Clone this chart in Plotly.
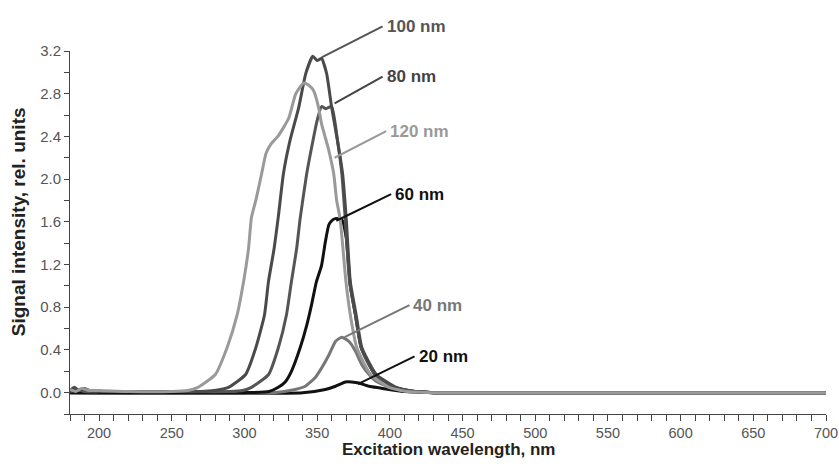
import plotly.graph_objects as go

# ---- data (wavelength nm, signal rel. units) ----
x20 = [180, 340, 355.6, 362.6, 369.4, 373.8, 378.8, 385.7, 392.5, 399.5, 410, 430, 700]
y20 = [0, 0, 0.03, 0.06, 0.10, 0.10, 0.09, 0.06, 0.045, 0.03, 0.01, 0, 0]

x40 = [180, 320, 334.8, 341.8, 348.6, 353, 358, 362.6, 367, 371.8, 376.3, 380.8, 385.7, 390.2, 399.5, 412.5, 430, 700]
y40 = [0, 0, 0.03, 0.06, 0.14, 0.23, 0.35, 0.48, 0.52, 0.48, 0.39, 0.26, 0.17, 0.11, 0.05, 0.01, 0, 0]

x60 = [180, 300, 316.8, 323.3, 328, 332.3, 338.3, 342.8, 346.1, 349.5, 353, 355.6, 358, 360, 362.5, 367, 370,
       372.8, 376.3, 380.3, 389.7, 403.5, 417.5, 430, 700]
y60 = [0, 0, 0.01, 0.05, 0.10, 0.20, 0.42, 0.63, 0.82, 1.04, 1.19, 1.41, 1.57, 1.61, 1.63, 1.62, 1.45,
       1.0, 0.73, 0.42, 0.17, 0.05, 0.01, 0, 0]

x80 = [180, 185, 190, 200, 250, 290, 298.8, 304.8, 316.6, 323.3, 328.9, 332.3, 335.9, 338.3, 342.8, 347.1, 350,
       353, 356, 360, 364, 367, 369.3, 372.3, 376.3, 380.3, 389.7, 403.5, 417.5, 430, 700]
y80 = [0.01, 0.03, 0.01, 0.01, 0.01, 0.01, 0.02, 0.05, 0.17, 0.42, 0.73, 1.04, 1.35, 1.63, 2.05, 2.36, 2.55,
       2.68, 2.66, 2.68, 2.36, 2.05, 1.63, 1.04, 0.73, 0.42, 0.17, 0.05, 0.01, 0, 0]

x100 = [180, 183, 186, 190, 195, 200, 250, 270, 279.2, 289, 300.8, 307.8, 313.8, 316.5, 320.4, 323.4, 326.8,
        331.3, 337.3, 342.2, 347, 350, 353, 356.5, 360, 364, 367.5, 370, 372.8, 376.8, 380.8, 390.7, 404.5,
        417.5, 430, 700]
y100 = [0.02, 0.05, 0.02, 0.04, 0.01, 0.01, 0.01, 0.01, 0.02, 0.05, 0.17, 0.42, 0.73, 1.04, 1.35, 1.66, 2.05,
        2.36, 2.67, 2.99, 3.15, 3.11, 3.13, 2.99, 2.67, 2.36, 2.05, 1.63, 1.04, 0.73, 0.42, 0.17, 0.05,
        0.01, 0, 0]

x120 = [180, 184, 188, 193, 200, 220, 250, 261, 268, 280, 288, 295, 299.4, 302.8, 304.8, 307.8, 311.8, 314.8,
        318.3, 323.5, 330.4, 335.3, 340.8, 344.2, 347.5, 351, 353, 358, 361.4, 363.4, 365.8, 369.8, 372.8,
        377.3, 386.7, 399.5, 412, 428, 700]
y120 = [0.03, 0.01, 0.04, 0.02, 0.02, 0.01, 0.01, 0.02, 0.05, 0.17, 0.42, 0.73, 1.04, 1.35, 1.64, 1.80, 2.05, 2.24,
        2.33, 2.41, 2.57, 2.80, 2.90, 2.88, 2.83, 2.67, 2.52, 2.27, 2.05, 1.80, 1.63, 1.04, 0.73,
        0.42, 0.17, 0.05, 0.01, 0, 0]

# labels and pointer lines
label_text = ["100 nm", "80 nm", "120 nm", "60 nm", "40 nm", "20 nm"]
label_color = ["#555555", "#444444", "#999999", "#111111", "#777777", "#111111"]
tail_x = [395.0, 395.0, 397.5, 400.9, 413.5, 417.0]
tail_y = [3.43, 2.96, 2.45, 1.86, 0.82, 0.34]
head_x = [353.1, 362.0, 362.0, 363.2, 368.9, 378.0]
head_y = [3.14, 2.71, 2.20, 1.61, 0.52, 0.08]

series = [
    ("20 nm", x20, y20, "#111111"),
    ("40 nm", x40, y40, "#777777"),
    ("60 nm", x60, y60, "#111111"),
    ("80 nm", x80, y80, "#555555"),
    ("100 nm", x100, y100, "#4a4a4a"),
    ("120 nm", x120, y120, "#9a9a9a"),
]

fig = go.Figure()
for name, xs, ys, col in series:
    fig.add_trace(go.Scatter(x=xs, y=ys, mode="lines", name=name,
                             line=dict(color=col, width=3, shape="spline", smoothing=0.5),
                             showlegend=False))

FONT = "Liberation Sans, Arial, sans-serif"
ann = []
for t, c, tx, ty, hx, hy in zip(label_text, label_color, tail_x, tail_y, head_x, head_y):
    ann.append(dict(x=hx, y=hy, ax=tx, ay=ty, xref="x", yref="y", axref="x", ayref="y",
                    text=f"<b>{t}</b>", showarrow=True, arrowhead=0, arrowwidth=2, arrowcolor=c,
                    standoff=0, startstandoff=0, xanchor="left", yanchor="middle", borderpad=3,
                    font=dict(family=FONT, size=17, color=c)))

ann.append(dict(x=-0.068, y=0.530, xref="paper", yref="paper", text="<b>Signal intensity, rel. units</b>",
                textangle=-90, showarrow=False, xanchor="center", yanchor="middle",
                font=dict(family=FONT, size=19, color="#222222")))
ann.append(dict(x=0.501, y=-0.099, xref="paper", yref="paper", text="<b>Excitation wavelength, nm</b>",
                showarrow=False, xanchor="center", yanchor="middle",
                font=dict(family=FONT, size=17, color="#222222")))

fig.update_layout(
    width=839, height=466,
    margin=dict(l=70, r=13, t=51, b=52),
    paper_bgcolor="white", plot_bgcolor="white",
    annotations=ann,
    xaxis=dict(range=[180, 700], tick0=200, dtick=50, showgrid=False, zeroline=False, automargin=False,
               showline=True, linecolor="#444444", linewidth=1,
               ticks="outside", ticklen=6, tickcolor="#444444",
               minor=dict(dtick=10, ticks="outside", ticklen=6, tickcolor="#444444", showgrid=False),
               tickfont=dict(family=FONT, size=14.5, color="#555555")),
    yaxis=dict(range=[-0.2, 3.2], tick0=0, dtick=0.4, tickformat=".1f", showgrid=False, zeroline=False,
               automargin=False, showline=True, linecolor="#444444", linewidth=1,
               ticks="outside", ticklen=5, tickcolor="#444444",
               minor=dict(dtick=0.2, ticks="outside", ticklen=5, tickcolor="#444444", showgrid=False),
               tickfont=dict(family=FONT, size=15, color="#555555")),
)

# remove the default 8 px page margin so the figure fills the window exactly
fig.write_html("out.html", config={"displayModeBar": False},
               post_script="document.body.style.margin='0';document.body.style.overflow='hidden';")
